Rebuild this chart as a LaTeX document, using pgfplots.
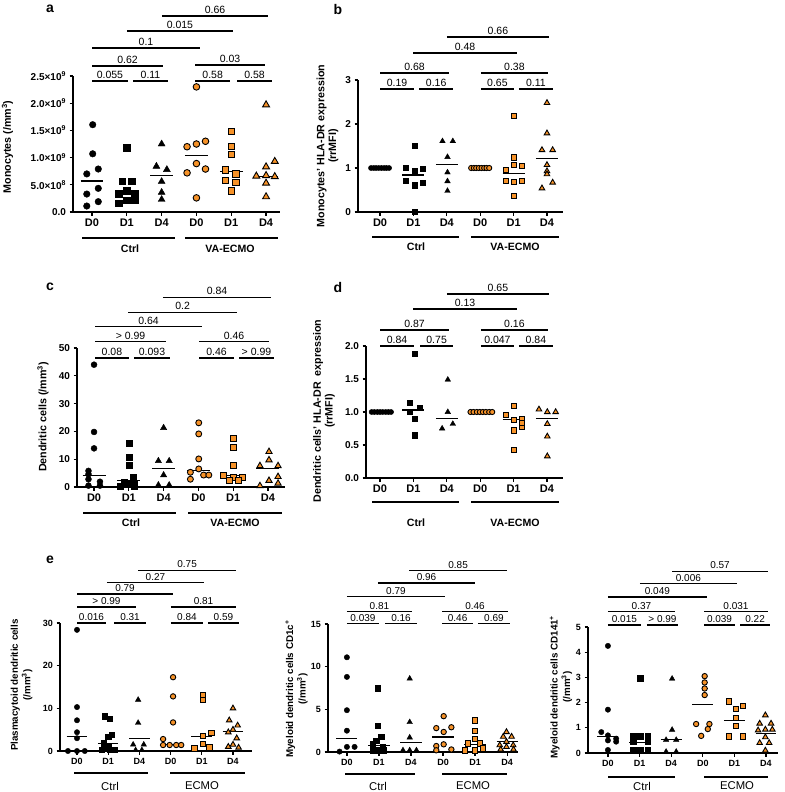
\documentclass[border=0pt]{standalone}
\usepackage{pgfplots}
\pgfplotsset{compat=1.18}
\usepackage{fontspec}
\setmainfont{Liberation Sans}
\definecolor{orng}{RGB}{246,146,40}

\newcommand\fs[1]{\fontsize{#1}{#1}\selectfont}
\def\pvf{\fs{10.5}}
% significance bracket: x1, x2, y, label
\newcommand\br[4]{\draw[line width=1.1pt] (axis cs:#1,#3) -- (axis cs:#2,#3)
  node[midway,above,inner sep=1.5pt,font=\pvf] {#4};}

\pgfplotsset{
  gp/.style={scale only axis, anchor=south west, clip=false,
    axis x line*=bottom, axis y line*=left,
    axis line style={line width=1.6pt},
    tick style={black, line width=1.2pt},
    major tick length=3.5pt, tick align=outside,
    xtick={0,1,2,3,4,5}, xticklabels={D0,D1,D4,D0,D1,D4},
    ymin=0, /pgf/number format/assume math mode=true,
    xticklabel style={font=\bfseries\fs{11}},
    yticklabel style={font=\bfseries\fs{10}},
  },
  gpe/.style={gp,
    xticklabel style={font=\bfseries\fs{9}},
    yticklabel style={font=\bfseries\fs{9}}},
  kc/.style={only marks, black, mark=*, mark size=#1},
  ks/.style={only marks, black, mark=square*, mark size=#1},
  kt/.style={only marks, black, mark=triangle*, mark size=#1},
  oc/.style={only marks, black, mark=*, mark size=#1, mark options={fill=orng, line width=0.9pt}},
  os/.style={only marks, black, mark=square*, mark size=#1, mark options={fill=orng, line width=0.9pt}},
  ot/.style={only marks, black, mark=triangle*, mark size=#1, mark options={fill=orng, line width=0.9pt}},
  med/.style={black, line width=1.1pt, no markers, unbounded coords=jump},
}

\begin{document}
\begin{tikzpicture}
\useasboundingbox (0,0) rectangle (784pt,-792pt);

% ---------------- a ----------------
\begin{axis}[gp, at={(73pt,-212pt)}, width=207pt, height=136pt,
  xmin=-0.546, xmax=5.40, ymax=2.5,
  ytick={0,0.5,1,1.5,2,2.5},
  yticklabels={0.0,5.0×10\textsuperscript{8},1.0×10\textsuperscript{9},1.5×10\textsuperscript{9},2.0×10\textsuperscript{9},2.5×10\textsuperscript{9}}]
\addplot[kc=3.3pt] coordinates {(-0.15,0.11) (0.18,0.19) (-0.15,0.33) (0.18,0.435) (-0.15,0.70) (0.18,0.79) (0.02,1.07) (0.02,1.605)};
\addplot[ks=3.2pt] coordinates {(1.0,1.18) (0.86,0.57) (1.14,0.57) (0.77,0.34) (1.0,0.39) (1.23,0.34) (0.77,0.16) (1.0,0.22) (1.23,0.22)};
\addplot[kt=4pt] coordinates {(2.0,1.25) (1.85,0.84) (2.15,0.78) (2.0,0.56) (2.0,0.36) (2.0,0.23)};
\addplot[oc=3.3pt] coordinates {(3.0,2.30) (2.73,1.20) (3.0,1.25) (3.26,1.30) (3.0,0.89) (2.73,0.72) (3.26,0.79) (3.0,0.26)};
\addplot[os=3.2pt] coordinates {(4.0,1.48) (4.0,1.21) (4.0,1.06) (3.84,0.77) (4.14,0.70) (3.84,0.58) (4.14,0.54) (4.0,0.39)};
\addplot[ot=4pt] coordinates {(5.0,1.97) (5.25,0.93) (5.0,0.83) (4.72,0.66) (5.0,0.67) (5.25,0.65) (5.0,0.53) (5.0,0.28)};
\addplot[med] coordinates {(-0.33,0.57) (0.33,0.57) (nan,nan) (0.67,0.37) (1.33,0.37) (nan,nan)
  (1.67,0.67) (2.33,0.67) (nan,nan) (2.67,1.04) (3.33,1.04) (nan,nan) (3.67,0.74) (4.33,0.74) (nan,nan) (4.67,0.66) (5.33,0.66)};
\br{0}{1.03}{2.408}{0.055}
\br{1.18}{2.18}{2.408}{0.11}
\br{0}{2.04}{2.684}{0.62}
\br{0}{3.10}{3.015}{0.1}
\br{1.0}{4.05}{3.327}{0.015}
\br{2.01}{5.06}{3.603}{0.66}
\br{2.96}{3.97}{2.408}{0.58}
\br{4.17}{5.17}{2.408}{0.58}
\br{2.96}{4.97}{2.702}{0.03}
\end{axis}

% ---------------- b ----------------
\begin{axis}[gp, at={(358pt,-212pt)}, width=205pt, height=132pt,
  xmin=-0.66, xmax=5.48, ymax=3, ytick={0,1,2,3}, yticklabels={0,1,2,3}]
\addplot[kc=2.6pt] coordinates {(-0.27,1) (-0.19,1) (-0.12,1) (-0.04,1) (0.04,1) (0.12,1) (0.19,1) (0.27,1)};
\addplot[ks=2.6pt] coordinates {(1.03,1.50) (0.77,1.01) (1.03,0.94) (1.28,0.98) (0.77,0.72) (1.03,0.61) (1.28,0.67) (1.03,0.01)};
\addplot[kt=3.2pt] coordinates {(1.87,1.61) (2.18,1.61) (2.02,1.25) (2.02,0.90) (2.02,0.70) (2.02,0.48)};
\addplot[oc=2.6pt] coordinates {(2.73,1) (2.81,1) (2.88,1) (2.96,1) (3.04,1) (3.12,1) (3.19,1) (3.27,1)};
\addplot[os=2.6pt] coordinates {(4.02,2.19) (4.02,1.24) (4.02,1.07) (3.77,0.95) (4.25,1.05) (3.77,0.70) (4.02,0.69) (4.25,0.70) (4.02,0.36)};
\addplot[ot=3.2pt] coordinates {(5.0,2.48) (5.0,1.79) (4.85,1.41) (5.17,1.41) (5.0,1.07) (5.0,0.93) (5.0,0.86) (5.17,0.67) (4.85,0.54)};
\addplot[med] coordinates {(0.67,0.84) (1.33,0.84) (nan,nan) (1.67,1.07) (2.33,1.07) (nan,nan)
  (3.67,0.88) (4.33,0.88) (nan,nan) (4.67,1.22) (5.33,1.22)};
\br{0}{1.02}{2.795}{0.19}
\br{1.17}{2.19}{2.795}{0.16}
\br{0}{2.07}{3.159}{0.68}
\br{0.99}{4.10}{3.614}{0.48}
\br{2.0}{5.06}{3.977}{0.66}
\br{3.02}{4.01}{2.795}{0.65}
\br{4.16}{5.18}{2.795}{0.11}
\br{3.02}{5.03}{3.159}{0.38}
\end{axis}

% ---------------- c ----------------
\begin{axis}[gp, at={(77pt,-487pt)}, width=208pt, height=139pt,
  xmin=-0.49, xmax=5.49, ymax=50, ytick={0,10,20,30,40,50}, yticklabels={0,10,20,30,40,50}]
\addplot[kc=3pt] coordinates {(0,44) (0,19.8) (0,13.9) (-0.16,5.8) (-0.16,4.6) (-0.16,2.8) (0.17,1.9) (-0.16,0.5) (0.17,0.5)};
\addplot[ks=3pt] coordinates {(1.0,15.9) (1.0,10.7) (1.0,7.7) (1.13,3.5) (0.86,1.9) (1.16,1.1) (1.0,1.1) (0.75,0.4) (1.16,0.4)};
\addplot[kt=3.6pt] coordinates {(2.0,21.3) (1.85,9.4) (2.16,9.4) (2.0,4.3) (1.85,0.7) (2.16,0.7)};
\addplot[oc=3pt] coordinates {(3.01,23.1) (3.01,19.1) (3.01,10.1) (2.77,5.3) (2.77,2.8) (3.01,6.5) (3.15,4.3) (3.30,4.3)};
\addplot[os=3pt] coordinates {(4.0,17.5) (4.0,14.3) (4.0,7.9) (3.73,4.3) (4.0,3.5) (4.26,3.5) (3.88,2.3) (4.16,2.3)};
\addplot[ot=3.6pt] coordinates {(5.03,12.7) (5.03,9.7) (4.77,7.6) (5.29,7.6) (5.29,3.7) (5.03,2.3) (5.29,1.3) (4.77,0.4)};
\addplot[med] coordinates {(-0.33,4.3) (0.33,4.3) (nan,nan) (0.67,2.3) (1.33,2.3) (nan,nan)
  (1.67,6.7) (2.33,6.7) (nan,nan) (2.67,5.9) (3.33,5.9) (nan,nan) (3.67,4.3) (4.33,4.3) (nan,nan) (4.67,6.5) (5.33,6.5)};
\br{0.03}{1.0}{46.4}{0.08}
\br{1.15}{2.18}{46.4}{0.093}
\br{0.03}{2.07}{52.2}{> 0.99}
\br{0.03}{3.10}{57.6}{0.64}
\br{0.98}{4.11}{62.9}{0.2}
\br{1.98}{5.09}{68.3}{0.84}
\br{3.02}{4.02}{46.4}{0.46}
\br{4.17}{5.17}{46.4}{> 0.99}
\br{3.02}{5.03}{52.2}{0.46}
\end{axis}

% ---------------- d ----------------
\begin{axis}[gp, at={(366pt,-478pt)}, width=197pt, height=132pt,
  xmin=-0.42, xmax=5.48, ymax=2, ytick={0,0.5,1,1.5,2}, yticklabels={0.0,0.5,1.0,1.5,2.0}]
\addplot[kc=2.6pt] coordinates {(-0.25,1) (-0.17,1) (-0.08,1) (0,1) (0.08,1) (0.17,1) (0.25,1) (0.33,1)};
\addplot[ks=2.6pt] coordinates {(1.03,1.88) (0.88,1.14) (0.88,1.0) (1.18,1.06) (1.03,0.90) (1.03,0.65)};
\addplot[kt=3.2pt] coordinates {(2.03,1.49) (2.03,1.0) (1.86,0.75) (2.18,0.82)};
\addplot[oc=2.6pt] coordinates {(2.71,1) (2.80,1) (2.90,1) (2.99,1) (3.08,1) (3.17,1) (3.27,1) (3.36,1)};
\addplot[os=2.6pt] coordinates {(4.01,1.09) (3.76,0.95) (4.01,0.88) (4.26,0.89) (4.26,0.78) (4.01,0.72) (4.26,0.84) (4.01,0.43)};
\addplot[ot=3.2pt] coordinates {(4.76,1.04) (5.01,1.0) (5.26,1.0) (5.01,0.82) (5.01,0.63) (5.01,0.33)};
\addplot[med] coordinates {(0.67,1.03) (1.33,1.03) (nan,nan) (1.67,0.90) (2.33,0.90) (nan,nan)
  (3.67,0.89) (4.33,0.89) (nan,nan) (4.67,0.90) (5.33,0.90)};
\br{0}{1.02}{2.0}{0.84}
\br{1.20}{2.19}{2.0}{0.75}
\br{0}{2.07}{2.242}{0.87}
\br{0.99}{4.10}{2.561}{0.13}
\br{2.0}{5.06}{2.788}{0.65}
\br{3.02}{4.01}{2.0}{0.047}
\br{4.16}{5.18}{2.0}{0.84}
\br{3.02}{5.03}{2.242}{0.16}
\end{axis}

\def\pvf{\fs{10}}
% ---------------- e1 ----------------
\begin{axis}[gpe, at={(60pt,-751pt)}, width=192pt, height=128pt,
  xmin=-0.545, xmax=5.61, ymax=30, ytick={0,10,20,30}, yticklabels={0,10,20,30}]
\addplot[kc=2.7pt] coordinates {(0,28.4) (0,10.3) (0,7.2) (0,4.4) (0,3.0) (-0.29,0) (0,0) (0.25,0)};
\addplot[ks=2.7pt] coordinates {(0.88,8.2) (1.05,7.6) (1.0,3.4) (1.12,3.8) (0.85,1.8) (1.0,1.0) (0.8,0.3) (1.05,0.3) (1.2,0.3)};
\addplot[kt=3.2pt] coordinates {(1.96,12.0) (1.96,6.6) (1.80,1.5) (2.14,1.5) (1.88,0.2) (2.08,0.2)};
\addplot[oc=2.7pt] coordinates {(3.08,17.3) (3.08,12.8) (3.08,6.7) (2.76,2.8) (2.76,1.4) (2.97,1.4) (3.18,1.4) (3.34,1.4)};
\addplot[os=2.7pt] coordinates {(4.04,13.0) (4.04,12.0) (4.31,4.3) (4.04,3.5) (4.04,1.6) (3.77,0.6) (4.25,0.8)};
\addplot[ot=3.2pt] coordinates {(5.0,10.0) (4.88,7.2) (5.15,6.0) (5.0,5.0) (4.85,4.4) (5.12,3.0) (5.0,1.5) (4.85,1.0) (5.18,0.8)};
\addplot[med] coordinates {(-0.33,3.5) (0.33,3.5) (nan,nan) (0.67,1.8) (1.33,1.8) (nan,nan)
  (1.67,3.0) (2.33,3.0) (nan,nan) (2.67,1.6) (3.33,1.6) (nan,nan) (3.67,3.4) (4.33,3.4) (nan,nan) (4.67,4.5) (5.33,4.5)};
\br{0}{0.93}{30.0}{0.016}
\br{1.19}{2.21}{30.0}{0.31}
\br{0}{1.89}{33.75}{> 0.99}
\br{0}{3.08}{36.8}{0.79}
\br{0.96}{4.07}{39.4}{0.27}
\br{1.96}{5.10}{42.4}{0.75}
\br{3.01}{4.04}{30.0}{0.84}
\br{4.20}{5.19}{30.0}{0.59}
\br{3.01}{5.10}{33.75}{0.81}
\end{axis}

% ---------------- e2 ----------------
\begin{axis}[gpe, at={(328pt,-752pt)}, width=190pt, height=128pt,
  xmin=-0.59, xmax=5.34, ymax=15, ytick={0,5,10,15}, yticklabels={0,5,10,15}]
\addplot[kc=2.7pt] coordinates {(0,11.1) (0,8.8) (0,4.9) (0,2.5) (-0.23,0.05) (0,0.6) (0.24,0.6)};
\addplot[ks=2.7pt] coordinates {(0.97,7.5) (0.97,3.1) (1.07,1.8) (0.92,1.3) (0.81,0.9) (1.12,0.6) (0.81,0.2) (0.97,0.2) (1.14,0.2)};
\addplot[kt=3.2pt] coordinates {(1.96,8.6) (1.96,3.5) (1.96,1.7) (1.75,0.2) (1.96,0.2) (2.17,0.2)};
\addplot[oc=2.7pt] coordinates {(3.02,4.2) (2.79,2.8) (3.26,2.9) (3.02,2.35) (3.02,0.9) (2.79,0.7) (2.79,0.2) (3.26,0.3)};
\addplot[os=2.7pt] coordinates {(3.99,3.7) (3.99,2.5) (3.99,1.5) (3.78,1.0) (4.15,1.0) (3.68,0.2) (3.99,0.2) (4.25,0.4)};
\addplot[ot=3.2pt] coordinates {(4.98,2.35) (4.88,1.8) (5.14,1.8) (4.98,1.2) (4.77,0.8) (5.19,0.8) (4.98,0.6) (4.8,0.3) (5.2,0.3)};
\addplot[med] coordinates {(-0.33,1.6) (0.33,1.6) (nan,nan) (0.67,0.8) (1.33,0.8) (nan,nan)
  (1.67,1.1) (2.33,1.1) (nan,nan) (2.67,1.76) (3.33,1.76) (nan,nan) (3.67,0.86) (4.33,0.86) (nan,nan) (4.67,1.2) (5.33,1.2)};
\br{0}{1.0}{15.1}{0.039}
\br{1.19}{2.19}{15.1}{0.16}
\br{0}{2.03}{16.5}{0.81}
\br{0}{3.06}{18.2}{0.79}
\br{0.97}{4.0}{19.8}{0.96}
\br{1.94}{5.0}{21.3}{0.85}
\br{2.97}{3.94}{15.1}{0.46}
\br{4.09}{5.09}{15.1}{0.69}
\br{2.97}{5.03}{16.5}{0.46}
\end{axis}

% ---------------- e3 ----------------
\begin{axis}[gpe, at={(588pt,-753pt)}, width=190pt, height=126pt,
  xmin=-0.63, xmax=5.38, ymax=5, ytick={0,1,2,3,4,5}, yticklabels={0,1,2,3,4,5}]
\addplot[kc=2.7pt] coordinates {(0,4.25) (0,1.72) (-0.21,0.83) (0,0.70) (0.26,0.57) (0,0.5) (0.26,0.45) (0,0.12)};
\addplot[ks=2.9pt] coordinates {(1.02,2.98) (0.79,0.68) (1.02,0.68) (1.26,0.68) (0.79,0.45) (1.26,0.45) (0.79,0.1) (1.02,0.1) (1.26,0.1)};
\addplot[kt=3.2pt] coordinates {(2.03,2.95) (2.03,0.92) (1.84,0.52) (2.16,0.52) (1.84,0.05) (2.16,0.05)};
\addplot[oc=2.7pt] coordinates {(3.06,3.05) (3.06,2.8) (3.06,2.56) (3.06,2.3) (2.79,1.15) (3.21,1.15) (3.16,0.95) (2.95,0.68)};
\addplot[os=2.7pt] coordinates {(3.82,2.05) (4.28,1.87) (4.05,1.75) (4.05,1.4) (4.05,1.07) (3.82,0.65) (4.28,0.65)};
\addplot[ot=3.2pt] coordinates {(4.98,1.5) (4.8,1.17) (5.16,1.17) (4.98,0.93) (4.75,0.9) (5.2,0.93) (4.98,0.63) (4.8,0.4) (5.1,0.4) (4.98,0.1)};
\addplot[med] coordinates {(-0.33,0.66) (0.33,0.66) (nan,nan) (0.67,0.41) (1.33,0.41) (nan,nan)
  (1.67,0.53) (2.33,0.53) (nan,nan) (2.67,1.93) (3.33,1.93) (nan,nan) (3.67,1.3) (4.33,1.3) (nan,nan) (4.67,0.77) (5.33,0.77)};
\br{0}{1.04}{5.08}{0.015}
\br{1.23}{2.22}{5.08}{> 0.99}
\br{0}{2.12}{5.6}{0.37}
\br{0}{3.13}{6.19}{0.049}
\br{1.01}{4.08}{6.71}{0.006}
\br{2.03}{5.06}{7.22}{0.57}
\br{3.04}{4.02}{5.08}{0.039}
\br{4.18}{5.13}{5.08}{0.22}
\br{3.04}{5.06}{5.6}{0.031}
\end{axis}

% ---------------- labels and group lines ----------------
\begin{scope}[font=\bfseries\fs{14}]
\node at (50pt,-9pt) {a};
\node at (338pt,-9pt) {b};
\node at (50pt,-287pt) {c};
\node at (338pt,-287pt) {d};
\node at (50pt,-560pt) {e};
\end{scope}

\node[rotate=90, font=\bfseries\fs{10.7}] at (7.5pt,-147pt) {Monocytes (/mm\textsuperscript{3})};
\node[rotate=90, font=\bfseries\fs{10.7}, align=center] at (327.5pt,-146pt) {Monocytes' HLA-DR expression\\[1pt](rrMFI)};
\node[rotate=90, font=\bfseries\fs{10.7}] at (43pt,-417pt) {Dendritic cells (/mm\textsuperscript{3})};
\node[rotate=90, font=\bfseries\fs{10.7}, align=center] at (324pt,-411pt) {Dendritic cells' HLA-DR \ expression\\[1pt](rrMFI)};
\node[rotate=90, font=\bfseries\fs{9.8}, align=center] at (21.5pt,-685pt) {Plasmacytoid dendritic cells\\[1pt](/mm\textsuperscript{3})};
\node[rotate=90, font=\bfseries\fs{9.8}, align=center] at (296.5pt,-689pt) {Myeloid dendritic cells CD1c\textsuperscript{+}\\[1pt](/mm\textsuperscript{3})};
\node[rotate=90, font=\bfseries\fs{9.8}, align=center] at (561pt,-687pt) {Myeloid dendritic cells CD141\textsuperscript{+}\\[1pt](/mm\textsuperscript{3})};

\begin{scope}[line width=1.6pt]
\draw (82pt,-238pt) -- (175pt,-238pt);  \draw (185pt,-238pt) -- (278pt,-238pt);
\draw (372pt,-237pt) -- (459pt,-237pt); \draw (471pt,-237pt) -- (559pt,-237pt);
\draw (83pt,-513pt) -- (176pt,-513pt);  \draw (188pt,-513pt) -- (282pt,-513pt);
\draw (372pt,-502pt) -- (459pt,-502pt); \draw (471pt,-502pt) -- (559pt,-502pt);
\draw (74pt,-773pt) -- (148pt,-773pt);  \draw (170pt,-773pt) -- (245pt,-773pt);
\draw (345pt,-774pt) -- (415pt,-774pt); \draw (442pt,-774pt) -- (507pt,-774pt);
\draw (608pt,-777pt) -- (675pt,-777pt); \draw (704pt,-777pt) -- (768pt,-777pt);
\end{scope}
\begin{scope}[font=\bfseries\fs{10.6}]
\node at (130pt,-249pt) {Ctrl};  \node at (230pt,-249pt) {VA-ECMO};
\node at (416pt,-247pt) {Ctrl};  \node at (515pt,-247pt) {VA-ECMO};
\node at (131pt,-523pt) {Ctrl};  \node at (235pt,-523pt) {VA-ECMO};
\node at (416pt,-523pt) {Ctrl};  \node at (515pt,-523pt) {VA-ECMO};
\end{scope}
\begin{scope}[font=\fs{11.3}]
\node at (110pt,-786pt) {Ctrl};  \node at (202pt,-786pt) {ECMO};
\node at (378pt,-786pt) {Ctrl};  \node at (473pt,-786pt) {ECMO};
\node at (642pt,-786pt) {Ctrl};  \node at (737pt,-786pt) {ECMO};
\end{scope}
\end{tikzpicture}
\end{document}
